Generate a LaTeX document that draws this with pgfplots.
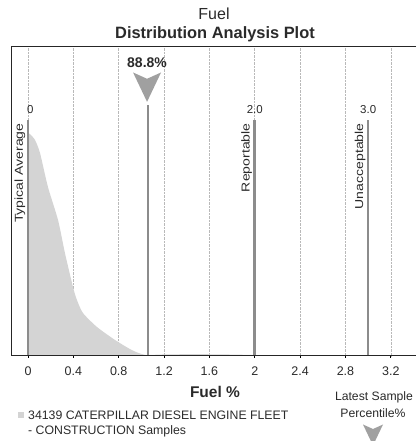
\documentclass[border=0pt]{standalone}
\usepackage{pgfplots}
\pgfplotsset{compat=1.18}
\usepackage{fontspec}
\setmainfont{Liberation Sans}
\definecolor{lineg}{HTML}{8C8C8C}
\definecolor{fillg}{HTML}{D4D4D4}
\definecolor{markg}{HTML}{A0A0A0}
\definecolor{txt}{HTML}{2A2A2A}
\pgfdeclareplotmark{dart}{%
  \pgfpathmoveto{\pgfqpoint{-\pgfplotmarksize}{1.05\pgfplotmarksize}}%
  \pgfpathlineto{\pgfqpoint{0pt}{0.6\pgfplotmarksize}}%
  \pgfpathlineto{\pgfqpoint{\pgfplotmarksize}{1.05\pgfplotmarksize}}%
  \pgfpathlineto{\pgfqpoint{0pt}{-1.05\pgfplotmarksize}}%
  \pgfpathclose\pgfusepathqfill}
\begin{document}
\begin{tikzpicture}[x=1pt,y=1pt]
\path[use as bounding box] (0,0) rectangle (416,441);
\begin{axis}[
  at={(12pt,85pt)}, anchor=south west,
  scale only axis, width=404pt, height=309pt,
  xmin=-0.141, xmax=3.422, ymin=0, ymax=1,
  axis line style={draw=none},
  xtick={0,0.4,0.8,1.2,1.6,2,2.4,2.8,3.2},
  xticklabels={0,0.4,0.8,1.2,1.6,2,2.4,2.8,3.2},
  ytick=\empty,
  xtick pos=bottom, tick align=outside, major tick length=2pt,
  tick style={black, thick},
  xmajorgrids, grid style={gray!55, densely dotted, line width=0.6pt},
  xticklabel style={font=\fontsize{12.5}{14}\selectfont, text=txt, yshift=-5pt},
  clip=false,
]
\addplot[fill=fillg, draw=none, smooth, tension=0.4] coordinates {
 (0,0.722) (0.018,0.718) (0.062,0.699) (0.106,0.657) (0.176,0.547)
 (0.265,0.440) (0.326,0.333) (0.397,0.223) (0.432,0.181) (0.485,0.139)
 (0.608,0.094) (0.767,0.052) (0.917,0.019) (1.03,0.004)
 (1.2,0.005) (1.45,0.006) (1.75,0.005) (2.0,0.003) (2.05,0)
} \closedcycle;
\addplot[lineg, line width=2.6pt] coordinates {(0,0) (0,0.764)};
\addplot[lineg, line width=2.6pt] coordinates {(1.06,0) (1.06,0.812)};
\addplot[lineg, line width=2.6pt] coordinates {(2,0) (2,0.764)};
\addplot[lineg, line width=2.6pt] coordinates {(3,0) (3,0.764)};
\addplot[only marks, mark=dart, mark size=14pt, markg] coordinates {(1.05,0.87)};
\node[font=\fontsize{11.5}{13}\selectfont, text=txt] at (axis cs:0.02,0.796) {0};
\node[font=\fontsize{11.5}{13}\selectfont, text=txt] at (axis cs:2.0,0.796) {2.0};
\node[font=\fontsize{11.5}{13}\selectfont, text=txt] at (axis cs:3.0,0.796) {3.0};
\node[font=\fontsize{14}{16}\selectfont\bfseries, text=txt] at (axis cs:1.05,0.948) {88.8\%};
\node[rotate=90, anchor=south east, inner sep=0.5pt, font=\fontsize{11.5}{13}\selectfont, text=txt]
  at ([xshift=-2pt]axis cs:0,0.755) {\scalebox{1.22}[1]{Typical Average}};
\node[rotate=90, anchor=south east, inner sep=0.5pt, font=\fontsize{11.5}{13}\selectfont, text=txt]
  at ([xshift=-2pt]axis cs:2,0.755) {\scalebox{1.22}[1]{Reportable}};
\node[rotate=90, anchor=south east, inner sep=0.5pt, font=\fontsize{11.5}{13}\selectfont, text=txt]
  at ([xshift=-2pt]axis cs:3,0.755) {\scalebox{1.22}[1]{Unacceptable}};
\draw[black!85, line width=1pt] (rel axis cs:1,1) -- (rel axis cs:0,1) -- (rel axis cs:0,0) -- (rel axis cs:1,0);
\end{axis}
\node[font=\fontsize{16}{18}\selectfont, text=txt] at (214,427) {Fuel};
\node[font=\fontsize{16.4}{18}\selectfont\bfseries, text=txt] at (215,407) {Distribution Analysis Plot};
\node[font=\fontsize{15.5}{17}\selectfont\bfseries, text=txt] at (215,49) {Fuel \%};
\fill[fillg] (18,23) rectangle (24,29);
\node[anchor=west, inner sep=0pt, font=\fontsize{12.3}{14}\selectfont, text=txt] at (28,26) {34139 CATERPILLAR DIESEL ENGINE FLEET};
\node[anchor=west, inner sep=0pt, font=\fontsize{12.3}{14}\selectfont, text=txt] at (28,10) {- CONSTRUCTION Samples};
\node[font=\fontsize{12.2}{14}\selectfont, text=txt] at (374,44) {Latest Sample};
\node[font=\fontsize{12.2}{14}\selectfont, text=txt] at (373,28) {Percentile\%};
\begin{scope}[shift={(373,6)}]
\pgfsetplotmarksize{10pt}
\pgfsetfillcolor{markg}
\pgfuseplotmark{dart}
\end{scope}
\end{tikzpicture}
\end{document}
